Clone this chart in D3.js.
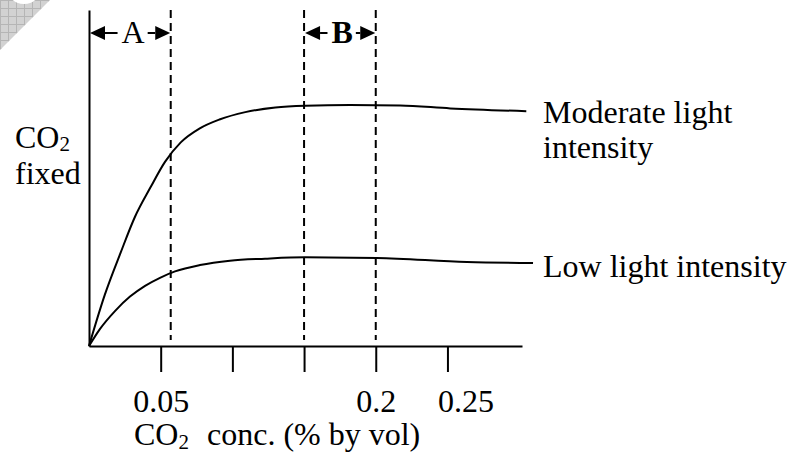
<!DOCTYPE html>
<html>
<head>
<meta charset="utf-8">
<script src="https://cdn.jsdelivr.net/npm/d3@7"></script>
<style>
  html, body { margin: 0; padding: 0; background: #ffffff; }
  svg { display: block; font-family: "Liberation Serif", "Times New Roman", serif; }
</style>
</head>
<body>
<svg id="chart" width="793" height="460"></svg>
<script>
// ---- data ----
const moderateX = [0, 0.011, 0.022, 0.032, 0.043, 0.053, 0.064, 0.077, 0.091, 0.109, 0.130, 0.151, 0.182, 0.217, 0.252, 0.305];
const moderateY = [0, 15.2, 27.7, 38.4, 47.3, 54.8, 60.6, 64.7, 67.4, 69.6, 71.0, 71.5, 71.7, 71.6, 70.7, 69.9];
const lowX = [0, 0.0077, 0.0181, 0.0286, 0.0391, 0.0495, 0.0600, 0.0774, 0.0983, 0.1228, 0.1506, 0.2009, 0.2636, 0.3097];
const lowY = [0, 5.1, 10.4, 14.7, 17.9, 20.3, 22.2, 24.1, 25.4, 26.0, 26.4, 26.2, 25.0, 24.7];
const tickValues = [0.05, 0.10, 0.15, 0.20, 0.25];
const tickLabels = ["0.05", "", "", "0.2", "0.25"];
const dashedAt = [0.057, 0.15, 0.2];
const regionLabels = ["A", "B"];
const regionFrom = [0, 0.15];
const regionTo = [0.057, 0.2];
const seriesNames = [["Moderate light", "intensity"], ["Low light intensity"]];

// ---- scales ----
const svg = d3.select("#chart");
const x = d3.scaleLinear().domain([0, 0.302]).range([89, 522]);
const y = d3.scaleLinear().domain([0, 100]).range([346, 10]);
const FS = 32;

// ---- corner decoration (page-curl watermark) ----
const defs = svg.append("defs");
const pat = defs.append("pattern").attr("id", "grid").attr("width", 8).attr("height", 8)
  .attr("patternUnits", "userSpaceOnUse");
pat.append("rect").attr("width", 8).attr("height", 8).attr("fill", "#d2d2d2");
pat.append("path").attr("d", "M0,0.5H8M0.5,0V8").attr("stroke", "#b5b5b5").attr("stroke-width", 1);
svg.append("path").attr("d", "M0,0L50,0L0,50Z").attr("fill", "url(#grid)");
svg.append("circle").attr("cx", 24).attr("cy", -14).attr("r", 18).attr("fill", "#ffffff");

// ---- dashed verticals ----
svg.append("g").selectAll("line").data(dashedAt).join("line")
  .attr("x1", d => x(d)).attr("x2", d => x(d))
  .attr("y1", 10).attr("y2", 340)
  .attr("stroke", "#000").attr("stroke-width", 2)
  .attr("stroke-dasharray", "8,5");

// ---- axes ----
const xAxis = d3.axisBottom(x).tickValues(tickValues)
  .tickFormat((d, i) => tickLabels[i]).tickSizeInner(26).tickSizeOuter(0);
const gx = svg.append("g").attr("transform", `translate(0,${y(0)})`).call(xAxis);
gx.select(".domain").attr("stroke-width", 2);
gx.selectAll(".tick line").attr("stroke-width", 2);
gx.selectAll(".tick text")
  .attr("y", 66).attr("dy", null)
  .attr("font-family", "Liberation Serif, serif").attr("font-size", FS).attr("fill", "#000")
  .attr("dx", d => d === 0.25 ? 18 : 0);

const yAxis = d3.axisLeft(y).tickValues([]).tickSizeOuter(0);
const gy = svg.append("g").attr("transform", `translate(${x(0)},0)`).call(yAxis);
gy.select(".domain").attr("stroke-width", 2);

// ---- curves ----
const line = d3.line().x(d => x(d[0])).y(d => y(d[1])).curve(d3.curveMonotoneX);
const series = [d3.zip(moderateX, moderateY), d3.zip(lowX, lowY)];
svg.append("g").selectAll("path").data(series).join("path")
  .attr("d", line).attr("fill", "none").attr("stroke", "#000").attr("stroke-width", 2);

// ---- series labels ----
const labelBase = [123, 277];
seriesNames.forEach((lines, i) => {
  const t = svg.append("text").attr("x", 543).attr("y", labelBase[i])
    .attr("font-size", FS).attr("fill", "#000");
  lines.forEach((s, j) => {
    t.append("tspan").attr("x", 543).attr("dy", j === 0 ? 0 : 35).text(s);
  });
});

// ---- region arrows A / B ----
const arrowY = 33;
regionLabels.forEach((lab, i) => {
  const x0 = x(regionFrom[i]) + 1, x1 = x(regionTo[i]) - 0.5;
  const mid = (x0 + x1) / 2 + (i === 0 ? 3 : 2);
  const t = svg.append("text").attr("x", mid).attr("y", arrowY + 10)
    .attr("text-anchor", "middle").attr("font-size", FS)
    .attr("font-weight", i === 1 ? "bold" : "normal").attr("fill", "#000").text(lab);
  const w = t.node().getComputedTextLength();
  const tl = mid - w / 2 - 4, tr = mid + w / 2 + 3;
  const hl = 15, hh = 7;
  const g = svg.append("g");
  g.append("path").attr("d", `M${x0},${arrowY}L${x0 + hl},${arrowY - hh}L${x0 + hl},${arrowY + hh}Z`).attr("fill", "#000");
  g.append("path").attr("d", `M${x1},${arrowY}L${x1 - hl},${arrowY - hh}L${x1 - hl},${arrowY + hh}Z`).attr("fill", "#000");
  g.append("line").attr("x1", x0 + hl).attr("x2", tl).attr("y1", arrowY).attr("y2", arrowY)
    .attr("stroke", "#000").attr("stroke-width", 2);
  g.append("line").attr("x1", tr).attr("x2", x1 - hl).attr("y1", arrowY).attr("y2", arrowY)
    .attr("stroke", "#000").attr("stroke-width", 2);
});

// ---- axis titles ----
const yt = svg.append("text").attr("x", 15).attr("y", 148).attr("font-size", FS).attr("fill", "#000");
yt.append("tspan").text("CO");
yt.append("tspan").attr("font-size", 21).attr("dy", 3).text("2");
svg.append("text").attr("x", 15).attr("y", 184).attr("font-size", FS).attr("fill", "#000").text("fixed");

const xt = svg.append("text").attr("x", 134).attr("y", 445).attr("font-size", FS).attr("fill", "#000");
xt.append("tspan").text("CO");
xt.append("tspan").attr("font-size", 21).attr("dy", 4).text("2");
xt.append("tspan").attr("x", 207).attr("dy", -4).text("conc. (% by vol)");
</script>
</body>
</html>
